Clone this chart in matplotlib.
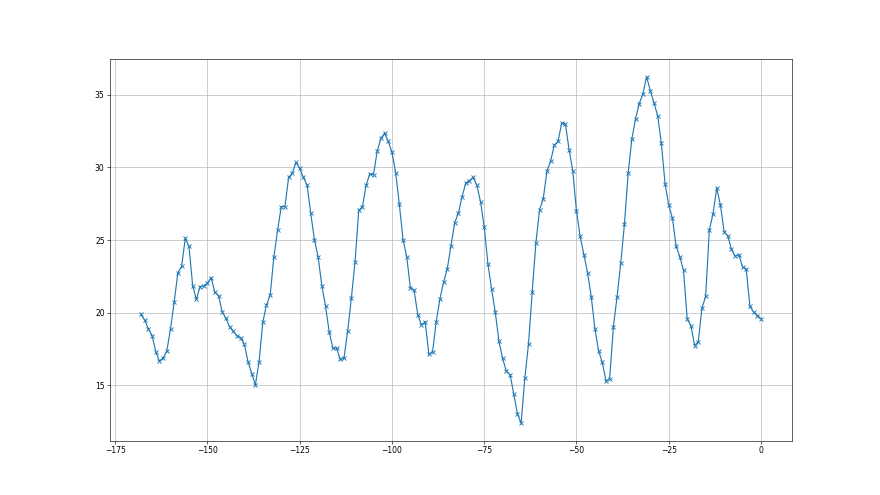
import numpy as np
import matplotlib
matplotlib.use("Agg")
import matplotlib.pyplot as plt

# --- x positions (one sample per step, last one at 0) ---
x_start = -168
x_end = 0

# --- values ---
values = [
    19.87, 19.48, 18.88, 18.42, 17.31, 16.66, 16.87, 17.36, 18.88, 20.75,   # -168 .. -159
    22.76, 23.18, 25.12, 24.56, 21.86, 20.91, 21.79, 21.86, 22.02, 22.41,   # -158 .. -149
    21.40, 21.17, 20.06, 19.60, 19.04, 18.70, 18.42, 18.26, 17.82, 16.63,   # -148 .. -139
    15.80, 15.03, 16.63, 19.33, 20.53, 21.20, 23.83, 25.66, 27.30, 27.30,   # -138 .. -129
    29.31, 29.60, 30.35, 29.93, 29.31, 28.78, 26.84, 25.00, 23.83, 21.85,   # -128 .. -119
    20.46, 18.66, 17.55, 17.55, 16.77, 16.86, 18.73, 21.00, 23.49, 27.04,   # -118 .. -109
    27.30, 28.78, 29.54, 29.50, 31.11, 32.00, 32.36, 31.80, 31.04, 29.65,   # -108 .. -99
    27.46, 25.03, 23.86, 21.69, 21.55, 19.84, 19.15, 19.38, 17.14, 17.30,   # -98 .. -89
    19.38, 20.95, 22.10, 23.03, 24.62, 26.19, 26.84, 27.99, 28.91, 29.10,   # -88 .. -79
    29.31, 28.78, 27.64, 25.91, 23.37, 21.62, 20.02, 18.01, 16.84, 15.96,   # -78 .. -69
    15.73, 14.41, 13.03, 12.38, 15.48, 17.83, 21.41, 24.80, 27.09, 27.85,   # -68 .. -59
    29.75, 30.44, 31.55, 31.80, 33.06, 33.01, 31.21, 29.76, 26.99, 25.25,   # -58 .. -49
    24.00, 22.76, 21.10, 18.88, 17.36, 16.57, 15.28, 15.46, 19.02, 21.10,   # -48 .. -39
    23.41, 26.09, 29.60, 31.95, 33.34, 34.40, 35.07, 36.25, 35.30, 34.45,   # -38 .. -29
    33.57, 31.67, 28.88, 27.42, 26.50, 24.58, 23.85, 22.92, 19.57, 19.11,   # -28 .. -19
    17.73, 18.00, 20.31, 21.12, 25.69, 26.80, 28.58, 27.42, 25.58, 25.28,   # -18 .. -9
    24.35, 23.89, 24.00, 23.15, 22.97, 20.43, 20.03, 19.80, 19.57,          # -8 .. 0
]

x = np.arange(x_start, x_end + 1)

fig, ax = plt.subplots(figsize=(16, 9), dpi=55)
ax.plot(x, values, marker="x", markersize=6, markeredgewidth=1.2, color="tab:blue")
ax.grid(True)

plt.savefig("out.png", dpi=55)
